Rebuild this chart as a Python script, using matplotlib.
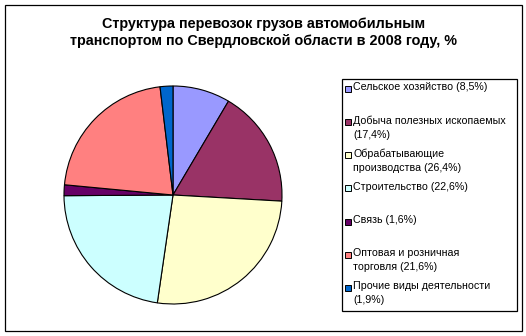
import matplotlib
matplotlib.use("Agg")
import matplotlib.pyplot as plt
from matplotlib.patches import Rectangle

plt.rcParams['font.family'] = ['Liberation Sans', 'DejaVu Sans']

categories = [
    "Сельское хозяйство (8,5%)",
    "Добыча полезных ископаемых\n(17,4%)",
    "Обрабатывающие\nпроизводства (26,4%)",
    "Строительство (22,6%)",
    "Связь (1,6%)",
    "Оптовая и розничная\nторговля (21,6%)",
    "Прочие виды деятельности\n(1,9%)",
]
values = [8.5, 17.4, 26.4, 22.6, 1.6, 21.6, 1.9]
colors = ["#9999FF", "#993366", "#FFFFCC", "#CCFFFF", "#660066", "#FF8080", "#0066CC"]
title = "Структура перевозок грузов автомобильным\nтранспортом по Свердловской области в 2008 году, %"

W, H = 526, 336
fig = plt.figure(figsize=(W / 100, H / 100), dpi=100)
fig.patch.set_facecolor("white")

def px(x, y, w, h):
    # convert top-left pixel box to figure fraction
    return [x / W, (H - y - h) / H, w / W, h / H]

# outer border
fig.patches.append(Rectangle((5 / W, (H - 331) / H), 517 / W, 326 / H,
                             transform=fig.transFigure, fill=False,
                             edgecolor="black", linewidth=0.9))

# title
fig.text(264 / W, 1 - 32.5 / H, title, ha="center", va="center",
         fontsize=10.4, fontweight="bold", linespacing=1.35)

# pie
cx, cy, r = 173, 195, 109
ax = fig.add_axes(px(cx - r, cy - r, 2 * r, 2 * r))
ax.pie(values, colors=colors, startangle=90, counterclock=False, radius=1,
       wedgeprops=dict(edgecolor="black", linewidth=0.8))
ax.set_xlim(-1, 1)
ax.set_ylim(-1, 1)
ax.set_aspect("equal")
ax.axis("off")
for p in ax.patches:
    p.set_clip_on(False)

# legend
lx, ly, lw, lh = 342, 79, 175, 232
lax = fig.add_axes(px(lx, ly, lw, lh))
lax.set_xlim(0, lw)
lax.set_ylim(lh, 0)
lax.axis("off")
lax.add_patch(Rectangle((0, 0), lw, lh, fill=False, edgecolor="black",
                        linewidth=0.9, clip_on=False))
slot = lh / len(categories)
for i, (lab, col) in enumerate(zip(categories, colors)):
    y0 = 10 + slot * i
    lax.add_patch(Rectangle((3, y0 - 3), 6, 6, facecolor=col,
                            edgecolor="black", linewidth=0.7))
    lax.text(11, y0 - 6.5, lab, ha="left", va="top", fontsize=7.7,
             linespacing=1.45)

fig.savefig("out.png", dpi=100, facecolor="white")
